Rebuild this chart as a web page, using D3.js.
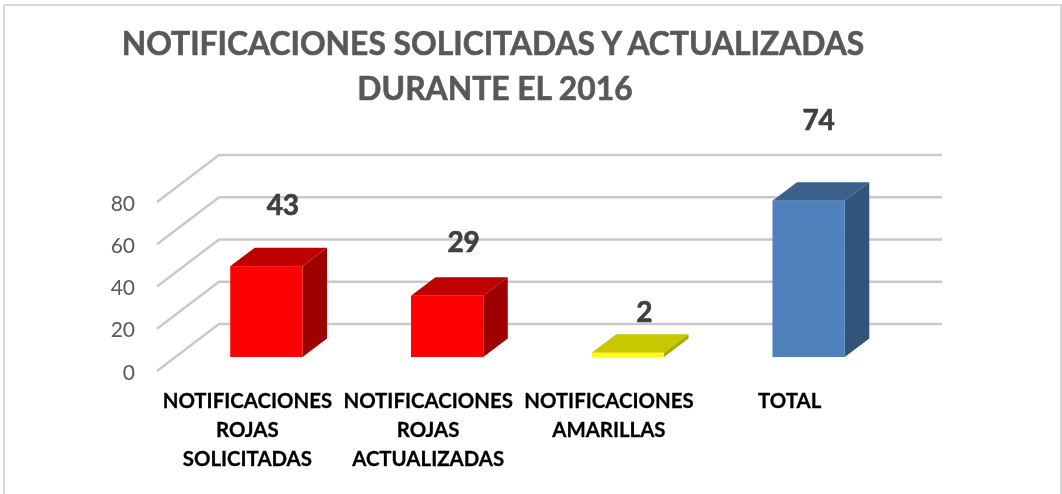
<!DOCTYPE html>
<html><head><meta charset="utf-8">
<script src="https://cdn.jsdelivr.net/npm/d3@7"></script>
<style>html,body{margin:0;padding:0;background:#fff}svg{display:block}</style>
</head><body><svg id="c" width="1062" height="494"></svg>
<script>
const titleLines = ["NOTIFICACIONES SOLICITADAS Y ACTUALIZADAS", "DURANTE EL 2016"];
const categories = ["a", "b", "c", "d"];
const categoryLabels = [["NOTIFICACIONES","ROJAS","SOLICITADAS"],["NOTIFICACIONES","ROJAS","ACTUALIZADAS"],["NOTIFICACIONES","AMARILLAS"],["TOTAL"]];
const values = [43, 29, 2, 74];
const frontColors = ["#ff0000","#ff0000","#ffff00","#4f81bd"];
const topColors = ["#bf0000","#bf0000","#c8c800","#3b618e"];
const sideColors = ["#9e0000","#9e0000","#a8a800","#31527a"];
const yTicks = [0,20,40,60,80];

const svg = d3.select("#c");
const font = "Lato, Carlito, sans-serif";
svg.append("defs").append("filter").attr("id","soft").append("feGaussianBlur").attr("stdDeviation",0.4);
const root = svg.append("g").attr("filter","url(#soft)");

const x = d3.scaleBand().domain(categories).range([157, 880]).paddingInner(0.6).paddingOuter(0.3);
const y = d3.scaleLinear().domain([0,80]).range([371, 202]);
// data labels were placed by hand in the original: their height rises faster than the bars
const labelY = d3.scaleLinear().domain([2,29,43,74]).range([322,251.5,215,130]);
const labelShift = d3.scaleOrdinal().domain(categories).range([16.5,16.5,16.5,10]);
const backDx = 62, backDy = -47;       // wall depth
const barOffX = 19, barOffY = -14;     // bar position on the floor
const depthX = 24.5, depthY = -18.5;   // bar depth

root.append("rect").attr("width",1062).attr("height",494).attr("fill","#fff");
root.append("path").attr("fill","none").attr("stroke","#d9d9d9").attr("stroke-width",2)
  .attr("d", d3.line()([[4,500],[4,5],[1061,5],[1061,500]]));

// gridlines
const grid = root.append("g").attr("fill","none").attr("stroke","#c9c9c9").attr("stroke-width",2.4);
yTicks.forEach(t=>{
  grid.append("path").attr("d", d3.line()([[x.range()[0],y(t)],[x.range()[0]+backDx,y(t)+backDy],[x.range()[1]+backDx,y(t)+backDy]]));
});

// y axis labels
root.append("g").selectAll("text").data(yTicks).join("text")
  .attr("x",135).attr("y",d=>y(d)+8.5).attr("text-anchor","end")
  .attr("font-family",font).attr("font-size",21).attr("fill","#595959").text(d=>d);

// bars
const bars = root.append("g").selectAll("g").data(values).join("g");
const bw = x.bandwidth();
const fx = (d,i)=>x(categories[i])+barOffX;
const base = y(0)+barOffY;
const ty = d=> y(d)+barOffY;
bars.append("path").attr("fill",(d,i)=>topColors[i]).attr("d",(d,i)=>d3.line()([[fx(d,i),ty(d)],[fx(d,i)+bw,ty(d)],[fx(d,i)+bw+depthX,ty(d)+depthY],[fx(d,i)+depthX,ty(d)+depthY]])+"Z");
bars.append("path").attr("fill",(d,i)=>sideColors[i]).attr("d",(d,i)=>d3.line()([[fx(d,i)+bw,ty(d)],[fx(d,i)+bw+depthX,ty(d)+depthY],[fx(d,i)+bw+depthX,base+depthY],[fx(d,i)+bw,base]])+"Z");
bars.append("rect").attr("fill",(d,i)=>frontColors[i]).attr("x",fx).attr("y",ty).attr("width",bw).attr("height",d=>base-ty(d));

// value labels
root.append("g").selectAll("text").data(values).join("text")
  .attr("x",(d,i)=>x(categories[i])+bw/2+barOffX+labelShift(categories[i]))
  .attr("y",d=>labelY(d))
  .attr("text-anchor","middle").attr("font-family",font).attr("font-weight",700).attr("font-size",28)
  .attr("fill","#404040").attr("stroke","#404040").attr("stroke-width",0.7).text(d=>d);

// category labels
const cl = root.append("g");
categoryLabels.forEach((lines,i)=>{
  lines.forEach((l,j)=>{
    cl.append("text").attr("x",x(categories[i])+bw/2).attr("y",408+j*29)
      .attr("text-anchor","middle").attr("font-family",font).attr("font-weight",700).attr("font-size",20.4)
      .attr("fill","#000").attr("stroke","#000").attr("stroke-width",0.3).text(l);
  });
});

// title
root.append("g").selectAll("text").data(titleLines).join("text")
  .attr("x",(d,i)=>i?495:493).attr("y",(d,i)=>54.5+i*45).attr("text-anchor","middle")
  .attr("font-family",font).attr("font-weight",700).attr("font-size",31.8)
  .attr("fill","#595959").attr("stroke","#595959").attr("stroke-width",0.6).text(d=>d);
</script></body></html>
